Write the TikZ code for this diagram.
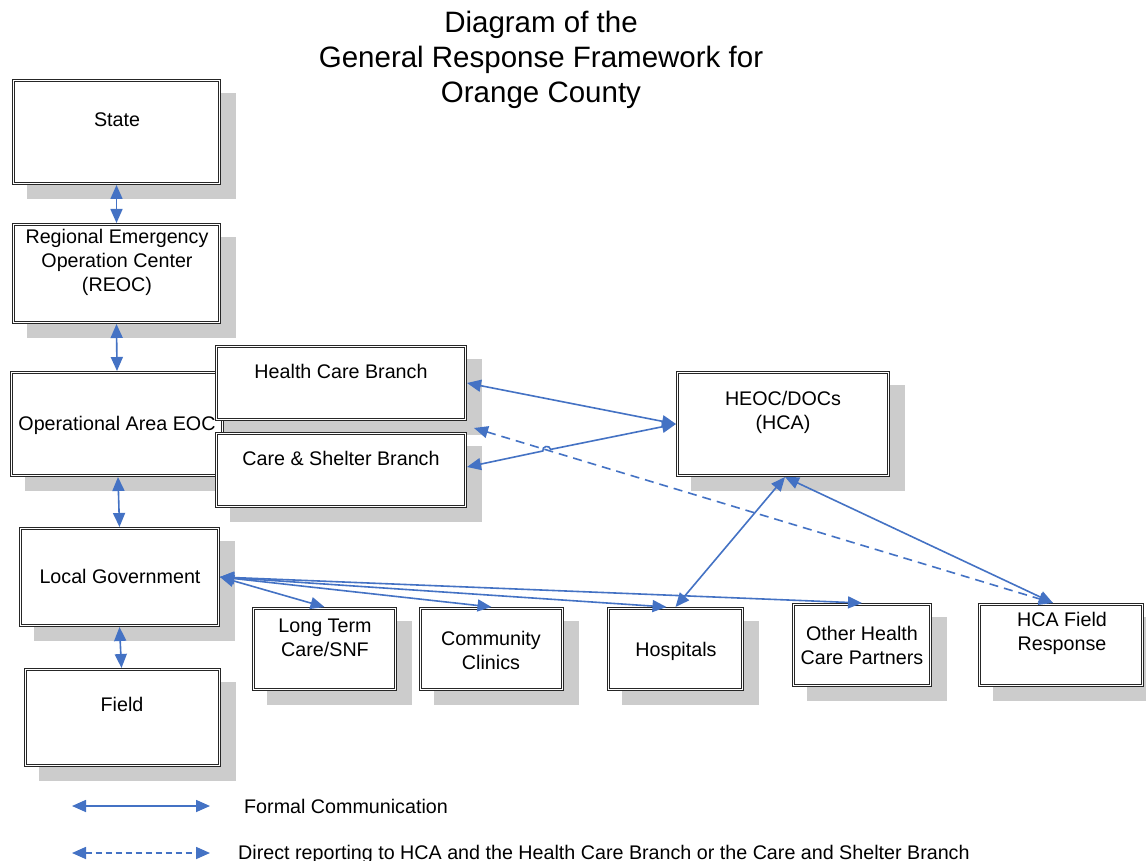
\documentclass[tikz,border=0pt]{standalone}
\usepackage{fontspec}
\setmainfont{Liberation Sans}
\usetikzlibrary{arrows.meta}
\definecolor{ablue}{HTML}{4472C4}
\definecolor{shgray}{HTML}{CCCCCC}
% name, x1, y1, x2, y2 (outer edges, image pixels)
\newcommand{\drawdbox}[5]{%
  \fill[shgray] ({#2+15},{#3+14}) rectangle ({#4+15},{#5+14});
  \node[dbox, minimum width={#4-#2-3.2}, minimum height={#5-#3-3.2}] (#1) at ({(#2+#4)/2},{(#3+#5)/2}) {};
}
\begin{document}
\begin{tikzpicture}[x=1pt,y=-1pt,
  dbox/.style={draw=black!85, fill=white, double=white, double distance=1.6pt, line width=0.8pt, inner sep=0pt, outer sep=1.6pt},
  lbl/.style={align=center, font=\fontsize{19.7}{24}\selectfont, inner sep=0pt},
  conn/.style={draw=ablue, line width=1.6pt, {Triangle[length=14pt,width=12pt]}-{Triangle[length=14pt,width=12pt]}},
  dconn/.style={conn, dash pattern=on 9pt off 6pt}]
\clip (0,0) rectangle (1146,861);
\fill[white] (0,0) rectangle (1146,861);

\node[align=center, font=\fontsize{29.5}{35}\selectfont, inner sep=0pt] (title) at (541,60) {Diagram of the\\General Response Framework for\\Orange County};

\drawdbox{state}{12}{79}{221}{185}
\node[lbl] (stateT) at (117,120) {State};
\drawdbox{reoc}{12}{223}{221}{324}
\node[lbl] (reocT) at (117,262) {Regional Emergency\\Operation Center\\(REOC)};
\drawdbox{eoc}{10}{371}{224}{477}
\node[lbl] (eocT) at (117,425) {Operational Area EOC};
\drawdbox{hcb}{215}{345}{467}{421}
\node[lbl] (hcbT) at (341,371) {Health Care Branch};
\drawdbox{csb}{215}{432}{467}{508}
\node[lbl] (csbT) at (341,458) {Care \& Shelter Branch};
\drawdbox{heoc}{676}{371}{890}{477}
\node[lbl] (heocT) at (783,412) {HEOC/DOCs\\(HCA)};
\drawdbox{lg}{19}{527}{220}{627}
\node[lbl] (lgT) at (120,576) {Local Government};
\drawdbox{field}{24}{668}{221}{767}
\node[lbl] (fieldT) at (122,704) {Field};
\drawdbox{ltc}{252}{607}{397}{691}
\node[lbl] (ltcT) at (325,638) {Long Term\\Care/SNF};
\drawdbox{cc}{419}{607}{564}{691}
\node[lbl] (ccT) at (491,650) {Community\\Clinics};
\drawdbox{hosp}{607}{607}{744}{691}
\node[lbl] (hospT) at (676,651) {Hospitals};
\drawdbox{ohp}{792}{603}{932}{687}
\node[lbl] (ohpT) at (862,645) {Other Health\\Care Partners};
\drawdbox{hcaf}{978}{603}{1144}{687}
\node[lbl] (hcafT) at (1062,633) {HCA Field\\Response};

% connectors
\draw[conn] (state.south) -- (reoc.north);
\draw[conn] (reoc.south) -- (eoc.north);
\draw[conn] ([xshift=1pt]eoc.south) -- (lg.north);
\draw[conn] (lg.south) -- ([xshift=-1pt]field.north);
\draw[conn] (hcb.east) -- (heoc.west);
\draw[conn] ([yshift=3pt]csb.east) -- (542.8,451.0) .. controls (541.8,446.1) and (549.6,444.5) .. (550.6,449.4) -- (heoc.west);
\draw[dconn] ([shift={(7pt,-7pt)}]hcb.south east) -- ([xshift=-8pt]hcaf.north);
\draw[conn] ([xshift=2pt]heoc.south) -- (hosp.north);
\draw[conn] ([xshift=2pt]heoc.south) -- ([xshift=-8pt]hcaf.north);
\draw[conn] (lg.east) -- (ltc.north);
\draw[conn] (lg.east) -- (cc.north);
\draw[conn] (lg.east) -- ([xshift=-9pt]hosp.north);
\draw[conn] (lg.east) -- (ohp.north);

% legend
\coordinate (fa) at (72,806);
\coordinate (fb) at (210,806);
\draw[conn] (fa) -- (fb);
\node[lbl, anchor=west] (faT) at (244,806) {Formal Communication};
\coordinate (da) at (72,853);
\coordinate (db) at (210,853);
\draw[conn, dash pattern=on 6pt off 4pt] (da) -- (db);
\node[lbl, anchor=west] (daT) at (238,854) {Direct reporting to HCA and the Health Care Branch or the Care and Shelter Branch};
\end{tikzpicture}
\end{document}
